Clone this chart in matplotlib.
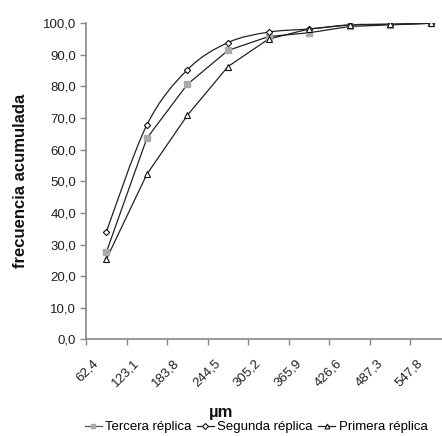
import matplotlib
matplotlib.use("Agg")
import matplotlib.pyplot as plt
from matplotlib.path import Path
from matplotlib.patches import PathPatch
from matplotlib.lines import Line2D
import numpy as np

plt.rcParams['font.family'] = 'sans-serif'
plt.rcParams['font.sans-serif'] = ['Liberation Sans']

categories = ["62,4", "123,1", "183,8", "244,5", "305,2", "365,9", "426,6", "487,3", "547,8"]
tercera = [27.5, 63.6, 80.7, 91.4, 95.8, 97.0, 99.0, 99.5, 100.0]
segunda = [34.0, 67.8, 85.3, 93.9, 97.2, 98.2, 99.5, 99.7, 100.0]
primera = [25.3, 52.2, 70.9, 86.3, 95.0, 98.2, 99.5, 99.7, 100.0]
yticks = [0, 10, 20, 30, 40, 50, 60, 70, 80, 90, 100]

W, H = 442, 436
fig = plt.figure(figsize=(W/100, H/100), dpi=100)
ax = fig.add_axes([86/W, (H-339.3)/H, (451-86)/W, (339.3-23.3)/H])

x = np.arange(len(categories)) + 0.5
axis_col = '#888888'
tick_fs = 9.5
txt_col = '#222222'

# Tercera: straight, gray squares
ax.plot(x, tercera, color='#222222', lw=0.9, zorder=2)
ax.plot(x, tercera, ls='none', marker='s', ms=4.2, mfc='#aaaaaa', mec='#aaaaaa', zorder=3)

# Segunda: smoothed line, hollow diamonds
pts = np.column_stack([x, segunda])
verts = [tuple(pts[0])]
codes = [Path.MOVETO]
n = len(pts)
for i in range(n - 1):
    p0 = pts[i - 1] if i > 0 else pts[i]
    p1 = pts[i]
    p2 = pts[i + 1]
    p3 = pts[i + 2] if i + 2 < n else pts[i + 1]
    c1 = p1 + (p2 - p0) / 6.0
    c2 = p2 - (p3 - p1) / 6.0
    verts += [tuple(c1), tuple(c2), tuple(p2)]
    codes += [Path.CURVE4] * 3
ax.add_patch(PathPatch(Path(verts, codes), fill=False, ec='#222222', lw=0.9, zorder=2))
ax.plot(x, segunda, ls='none', marker='D', ms=3.2, mfc='white', mec='#111111', mew=0.8, zorder=4)

# Primera: straight, hollow triangles
ax.plot(x, primera, color='#222222', lw=0.9, zorder=2)
ax.plot(x, primera, ls='none', marker='^', ms=4.2, mfc='white', mec='#111111', mew=0.8, zorder=4)

ax.set_xlim(0, len(categories))
ax.set_ylim(0, 100)
ax.set_yticks(yticks)
ax.set_yticklabels([f"{v:.1f}".replace('.', ',') for v in yticks], fontsize=tick_fs, color=txt_col)

ax.set_xticks(np.arange(len(categories) + 1))
ax.set_xticklabels([])
for xi, lab in zip(x, categories):
    ax.annotate(lab, xy=(xi, 0), xycoords=('data', 'axes fraction'),
                xytext=(-7, -16), textcoords='offset points',
                rotation=45, ha='right', va='center', rotation_mode='anchor',
                fontsize=tick_fs, color=txt_col)

ax.tick_params(axis='both', which='major', direction='out', length=4, width=1, color=axis_col)
ax.tick_params(axis='y', pad=3)
for s in ['top', 'right']:
    ax.spines[s].set_visible(False)
for s in ['left', 'bottom']:
    ax.spines[s].set_color(axis_col)
    ax.spines[s].set_linewidth(1.2)

fig.text(21/W, 1 - 181/H, 'frecuencia acumulada', rotation=90, ha='center', va='center',
         fontsize=12, fontweight='bold', color='#111111')
fig.text(221/W, 1 - 412/H, 'µm', ha='center', va='center', fontsize=12, fontweight='bold', color='#111111')

handles = [
    Line2D([], [], color='#555555', lw=0.9, marker='s', ms=3.5, mfc='#aaaaaa', mec='#aaaaaa'),
    Line2D([], [], color='#222222', lw=0.9, marker='D', ms=3, mfc='white', mec='#111111', mew=0.8),
    Line2D([], [], color='#222222', lw=0.9, marker='^', ms=3.5, mfc='white', mec='#111111', mew=0.8),
]
fig.legend(handles, ['Tercera réplica', 'Segunda réplica', 'Primera réplica'],
           loc='center', bbox_to_anchor=(256/W, 1 - 427/H), ncol=3, frameon=False,
           fontsize=tick_fs, handlelength=1.3, handletextpad=0.25, columnspacing=0.4,
           borderpad=0, borderaxespad=0)

fig.savefig('out.png', dpi=100)
